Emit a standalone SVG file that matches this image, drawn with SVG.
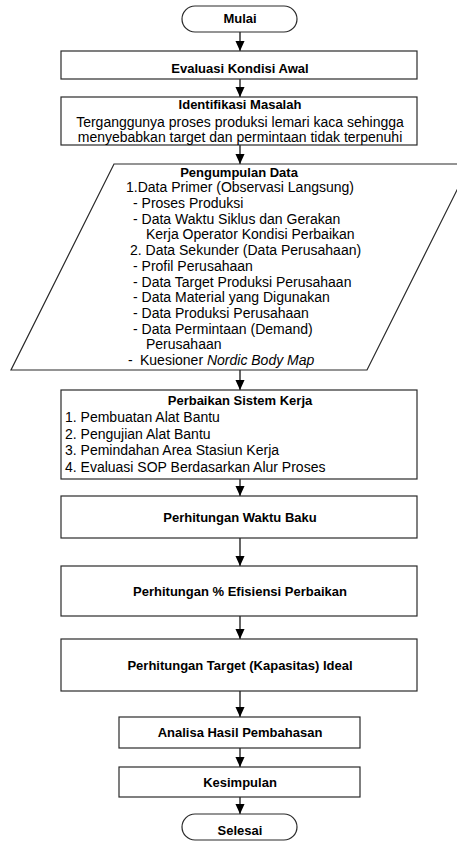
<svg xmlns="http://www.w3.org/2000/svg" width="457" height="841" viewBox="0 0 457 841">
<defs>
<style>
.box{fill:#fff;stroke:#2a2a2a;stroke-width:1.2}
.b{font-family:"Liberation Sans",Arial,sans-serif;font-size:13px;font-weight:bold;fill:#000;text-anchor:middle}
.r{font-family:"Liberation Sans",Arial,sans-serif;font-size:14px;fill:#000}
.c{text-anchor:middle}
.con{stroke:#000;stroke-width:1.2;fill:none;marker-end:url(#ah)}
</style>
<marker id="ah" markerUnits="userSpaceOnUse" markerWidth="10" markerHeight="11" refX="11" refY="5" orient="auto" viewBox="0 0 11 10">
<path d="M0,0 L11,5 L0,10 z" fill="#000"/>
</marker>
</defs>
<rect width="457" height="841" fill="#fff"/>
<g id="connectors">
<line class="con" x1="240" y1="32" x2="240" y2="51"/>
<line class="con" x1="240" y1="79" x2="240" y2="97"/>
<line class="con" x1="240" y1="145" x2="240" y2="164"/>
<line class="con" x1="240" y1="370" x2="240" y2="390"/>
<line class="con" x1="240" y1="479" x2="240" y2="496"/>
<line class="con" x1="240" y1="538" x2="240" y2="566"/>
<line class="con" x1="240" y1="616" x2="240" y2="639"/>
<line class="con" x1="240" y1="691" x2="240" y2="717"/>
<line class="con" x1="240" y1="748" x2="240" y2="767"/>
<line class="con" x1="240" y1="797" x2="240" y2="814"/>
</g>
<g id="mulai">
<rect class="box" x="182" y="6" width="115" height="26" rx="13" ry="13"/>
<text class="b" x="240" y="23">Mulai</text>
</g>
<g id="evaluasi">
<rect class="box" x="61" y="51" width="356" height="28"/>
<text class="b" x="240" y="73">Evaluasi Kondisi Awal</text>
</g>
<g id="identifikasi">
<rect class="box" x="61" y="97" width="356" height="48"/>
<text class="b" x="240" y="109">Identifikasi Masalah</text>
<text class="r c" x="240" y="127">Terganggunya proses produksi lemari kaca sehingga</text>
<text class="r c" x="240" y="142">menyebabkan target dan permintaan tidak terpenuhi</text>
</g>
<g id="pengumpulan">
<polygon class="box" points="114,164 470,164 367,370 11,370"/>
<text class="b" x="239" y="177">Pengumpulan Data</text>
<text class="r" x="126" y="192">1.Data Primer (Observasi Langsung)</text>
<text class="r" x="133" y="208">- Proses Produksi</text>
<text class="r" x="133" y="223.5">- Data Waktu Siklus dan Gerakan</text>
<text class="r" x="146" y="239">Kerja Operator Kondisi Perbaikan</text>
<text class="r" x="130" y="255">2. Data Sekunder (Data Perusahaan)</text>
<text class="r" x="133" y="270.5">- Profil Perusahaan</text>
<text class="r" x="133" y="286.5">- Data Target Produksi Perusahaan</text>
<text class="r" x="133" y="302">- Data Material yang Digunakan</text>
<text class="r" x="133" y="318">- Data Produksi Perusahaan</text>
<text class="r" x="133" y="333.5">- Data Permintaan (Demand)</text>
<text class="r" x="146" y="349">Perusahaan</text>
<text class="r" x="128" y="365">-<tspan x="140">Kuesioner </tspan><tspan font-style="italic">Nordic Body Map</tspan></text>
</g>
<g id="perbaikan">
<rect class="box" x="61" y="390" width="356" height="89"/>
<text class="b" x="240" y="405">Perbaikan Sistem Kerja</text>
<text class="r" x="65" y="422">1. Pembuatan Alat Bantu</text>
<text class="r" x="65" y="438.7">2. Pengujian Alat Bantu</text>
<text class="r" x="65" y="455.3">3. Pemindahan Area Stasiun Kerja</text>
<text class="r" x="65" y="472">4. Evaluasi SOP Berdasarkan Alur Proses</text>
</g>
<g id="waktu-baku">
<rect class="box" x="61" y="496" width="356" height="42"/>
<text class="b" x="240" y="522">Perhitungan Waktu Baku</text>
</g>
<g id="efisiensi">
<rect class="box" x="61" y="566" width="356" height="50"/>
<text class="b" x="240" y="596">Perhitungan % Efisiensi Perbaikan</text>
</g>
<g id="target">
<rect class="box" x="61" y="639" width="356" height="52"/>
<text class="b" x="240" y="670">Perhitungan Target (Kapasitas) Ideal</text>
</g>
<g id="analisa">
<rect class="box" x="119" y="717" width="241" height="31"/>
<text class="b" x="240" y="737">Analisa Hasil Pembahasan</text>
</g>
<g id="kesimpulan">
<rect class="box" x="119" y="767" width="241" height="30"/>
<text class="b" x="240" y="787">Kesimpulan</text>
</g>
<g id="selesai">
<rect class="box" x="182" y="814" width="115" height="26" rx="13" ry="13"/>
<text class="b" x="240" y="835">Selesai</text>
</g>
</svg>
